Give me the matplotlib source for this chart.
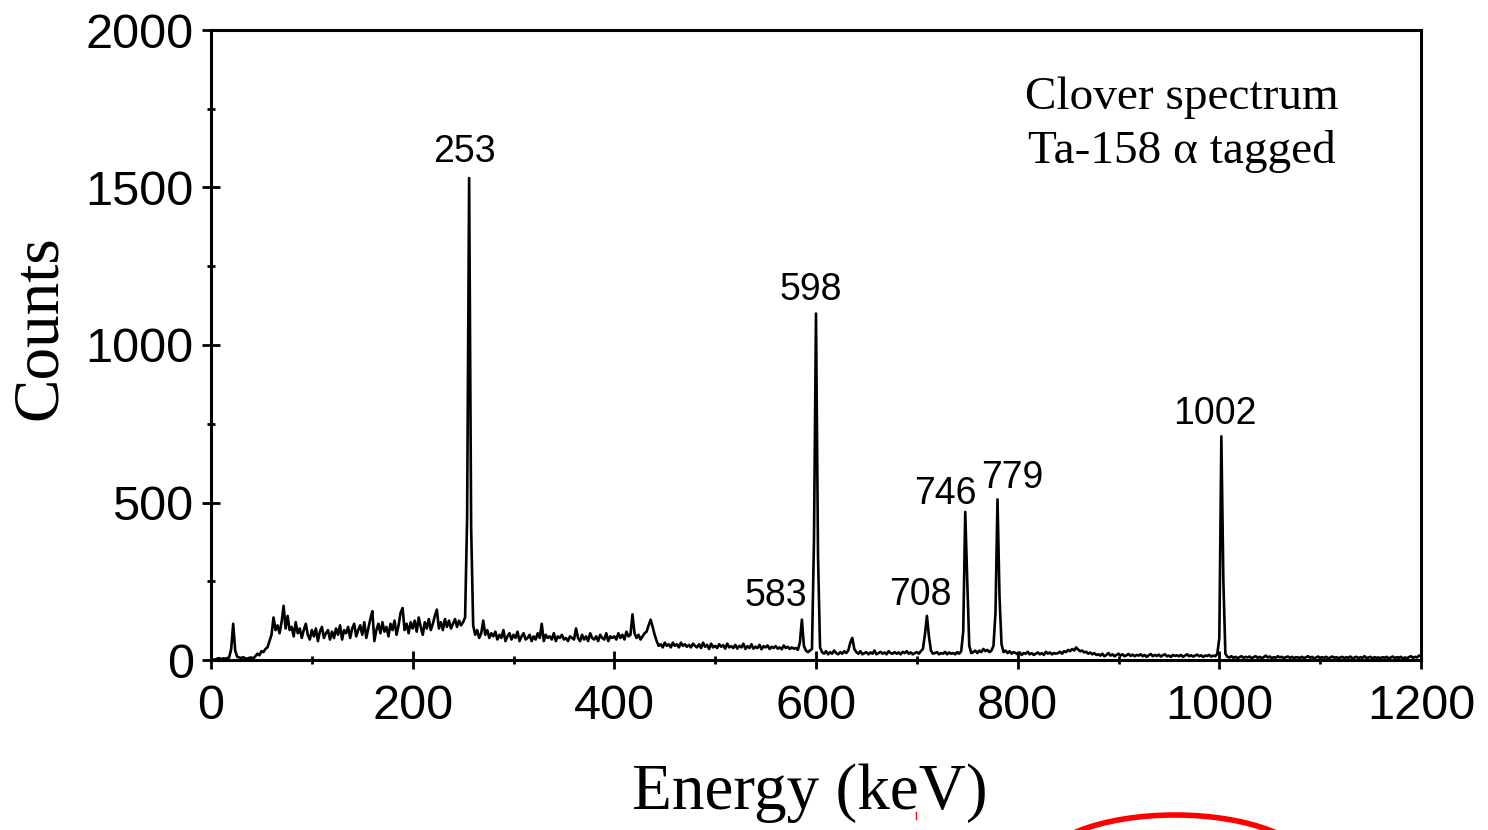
import numpy as np
import matplotlib
matplotlib.use("Agg")
import matplotlib.pyplot as plt
from matplotlib.patches import Ellipse
from matplotlib.lines import Line2D
from matplotlib.ticker import MultipleLocator

# spectrum, 2 keV per point, 0 .. 1200 keV
counts = [
    0, 0, 2, 4, 6, 3, 5, 4, 6, 8, 35, 115, 30, 10, 8, 6, 9, 5, 4, 7,                          # 0-38
    8, 5, 12, 20, 15, 28, 25, 35, 40, 60, 80, 135, 95, 110, 85, 120, 172, 100, 140, 95,     # 40-78
    105, 75, 120, 85, 100, 70, 95, 115, 80, 65, 95, 75, 100, 60, 90, 105, 70, 85, 95, 65,   # 80-118
    90, 70, 100, 80, 110, 65, 95, 85, 105, 70, 100, 115, 75, 95, 110, 80, 120, 70, 100, 130,  # 120-158
    155, 60, 95, 115, 85, 120, 90, 105, 75, 115, 95, 125, 80, 110, 150, 165, 95, 115, 85, 120,  # 160-198
    100, 125, 90, 135, 105, 80, 120, 100, 130, 95, 115, 140, 160, 100, 120, 95, 130, 105, 125, 100,  # 200-238
    115, 130, 105, 125, 110, 120, 135, 450, 1530, 420, 110, 80, 95, 70, 85, 125, 80, 95, 70, 85,  # 240-278
    75, 90, 65, 80, 70, 95, 60, 75, 85, 65, 80, 70, 90, 60, 75, 85, 65, 70, 80, 60,         # 280-318
    75, 65, 85, 70, 115, 60, 80, 70, 75, 65, 85, 60, 75, 70, 80, 65, 70, 60, 75, 70,        # 320-358
    65, 100, 70, 60, 80, 65, 75, 60, 85, 70, 65, 75, 60, 80, 70, 65, 85, 60, 75, 70,        # 360-398
    75, 65, 85, 70, 80, 65, 90, 75, 80, 145, 85, 70, 80, 65, 75, 85, 90, 110, 128, 105,     # 400-438
    80, 60, 45, 50, 40, 55, 45, 50, 40, 55, 45, 50, 40, 55, 45, 50, 42, 48, 40, 52,         # 440-478
    45, 40, 50, 38, 55, 42, 48, 35, 52, 40, 45, 38, 50, 42, 47, 36, 52, 40, 44, 38,         # 480-518
    48, 36, 45, 40, 52, 35, 44, 38, 50, 36, 42, 38, 48, 34, 44, 40, 46, 35, 42, 38,         # 520-558
    44, 36, 40, 34, 46, 38, 42, 35, 40, 36, 38, 32, 55, 128, 45, 30, 25, 30, 35, 380,       # 560-598
    1100, 330, 40, 25, 20, 28, 18, 25, 20, 30, 22, 18, 25, 20, 28, 22, 30, 55, 70, 35,      # 600-638
    25, 20, 28, 18, 22, 25, 18, 24, 20, 30, 18, 22, 26, 20, 24, 18, 28, 22, 20, 25,         # 640-678
    20, 24, 18, 26, 22, 28, 20, 24, 18, 22, 25, 20, 28, 35, 80, 140, 75, 30, 20, 22,        # 680-718
    25, 18, 22, 20, 26, 18, 24, 20, 22, 18, 25, 20, 28, 90, 470, 250, 45, 22, 25, 30,       # 720-758
    22, 30, 25, 35, 28, 32, 25, 30, 45, 150, 510, 200, 50, 25, 30, 22, 28, 20, 25, 22,      # 760-798
    18, 24, 16, 22, 20, 26, 18, 22, 16, 20, 24, 18, 22, 16, 26, 20, 24, 18, 22, 20,         # 800-838
    22, 26, 20, 28, 25, 32, 28, 35, 30, 40, 33, 28, 30, 24, 26, 20, 24, 18, 22, 16,         # 840-878
    18, 14, 20, 12, 16, 22, 14, 18, 12, 16, 20, 14, 18, 12, 15, 19, 13, 17, 12, 16,         # 880-918
    14, 18, 12, 16, 10, 15, 19, 12, 16, 13, 17, 11, 15, 18, 12, 14, 10, 16, 13, 15,         # 920-958
    12, 16, 10, 14, 18, 12, 15, 11, 14, 17, 12, 15, 10, 14, 13, 16, 11, 14, 12, 20,         # 960-998
    70, 710, 250, 20, 10, 8, 12, 7, 10, 6, 9, 12, 7, 10, 8, 11, 6, 9, 12, 7,                # 1000-1038
    10, 6, 9, 14, 8, 11, 6, 9, 7, 12, 8, 10, 6, 9, 11, 7, 10, 6, 9, 8,                      # 1040-1078
    7, 10, 6, 9, 12, 7, 10, 5, 8, 11, 6, 9, 7, 10, 5, 8, 11, 7, 9, 6,                       # 1080-1118
    8, 10, 6, 9, 7, 11, 5, 8, 10, 6, 9, 7, 12, 6, 8, 10, 5, 9, 7, 8,                        # 1120-1158
    6, 9, 7, 10, 5, 8, 11, 6, 9, 7, 10, 5, 8, 6, 9, 12, 7, 10, 8, 14,                       # 1160-1198
    12,
]
energy = np.arange(len(counts)) * 2

peak_labels = ["253", "598", "583", "708", "746", "779", "1002"]
label_x = [251, 595, 560, 704, 728, 795, 996]
label_y = [1613, 1175, 203, 206, 527, 578, 781]

W, H = 1488, 830
fig = plt.figure(figsize=(W / 100, H / 100), dpi=100)
ax = fig.add_axes([211 / W, 1 - 660 / H, 1210 / W, 630 / H])

ax.plot(energy, counts, color="black", lw=1.9)

ax.set_xlim(0, 1200)
ax.set_ylim(0, 2000)
ax.xaxis.set_major_locator(MultipleLocator(200))
ax.xaxis.set_minor_locator(MultipleLocator(100))
ax.yaxis.set_major_locator(MultipleLocator(500))
ax.yaxis.set_minor_locator(MultipleLocator(250))

for s in ax.spines.values():
    s.set_linewidth(2.2)
ax.tick_params(which="major", direction="inout", length=13, width=2.0,
               labelsize=35, pad=6)
ax.tick_params(axis="x", which="major", pad=11)
ax.tick_params(which="minor", direction="inout", length=6, width=2.0)
for lab in ax.get_xticklabels() + ax.get_yticklabels():
    lab.set_fontfamily("Liberation Sans")

for t, x, y in zip(peak_labels, label_x, label_y):
    ax.text(x, y, t, ha="center", va="center", fontsize=27,
            family="Liberation Sans")

ax.text(963, 1784, "Clover spectrum", ha="center", va="center",
        fontsize=34, family="Liberation Serif")
ax.text(963, 1613, "Ta-158 \u03b1 tagged", ha="center", va="center",
        fontsize=34, family="Liberation Serif")

fig.text(40 / W, 1 - 328 / H, "Counts", rotation=90, ha="center", va="center",
         fontsize=47, family="Liberation Serif")
fig.text(810 / W, 1 - 793 / H, "Energy (keV)", ha="center", va="center",
         fontsize=47, family="Liberation Serif")

# red mark-up at the bottom of the picture
fig.add_artist(Ellipse((1175 / W, -40 / H), 274 / W, 110 / H,
                       transform=fig.transFigure, fill=False,
                       edgecolor="red", lw=4))
fig.add_artist(Line2D([916 / W, 916 / W], [1 - 812 / H, 1 - 819 / H],
                      transform=fig.transFigure, color="red", lw=1))

fig.savefig("out.png", dpi=100)
